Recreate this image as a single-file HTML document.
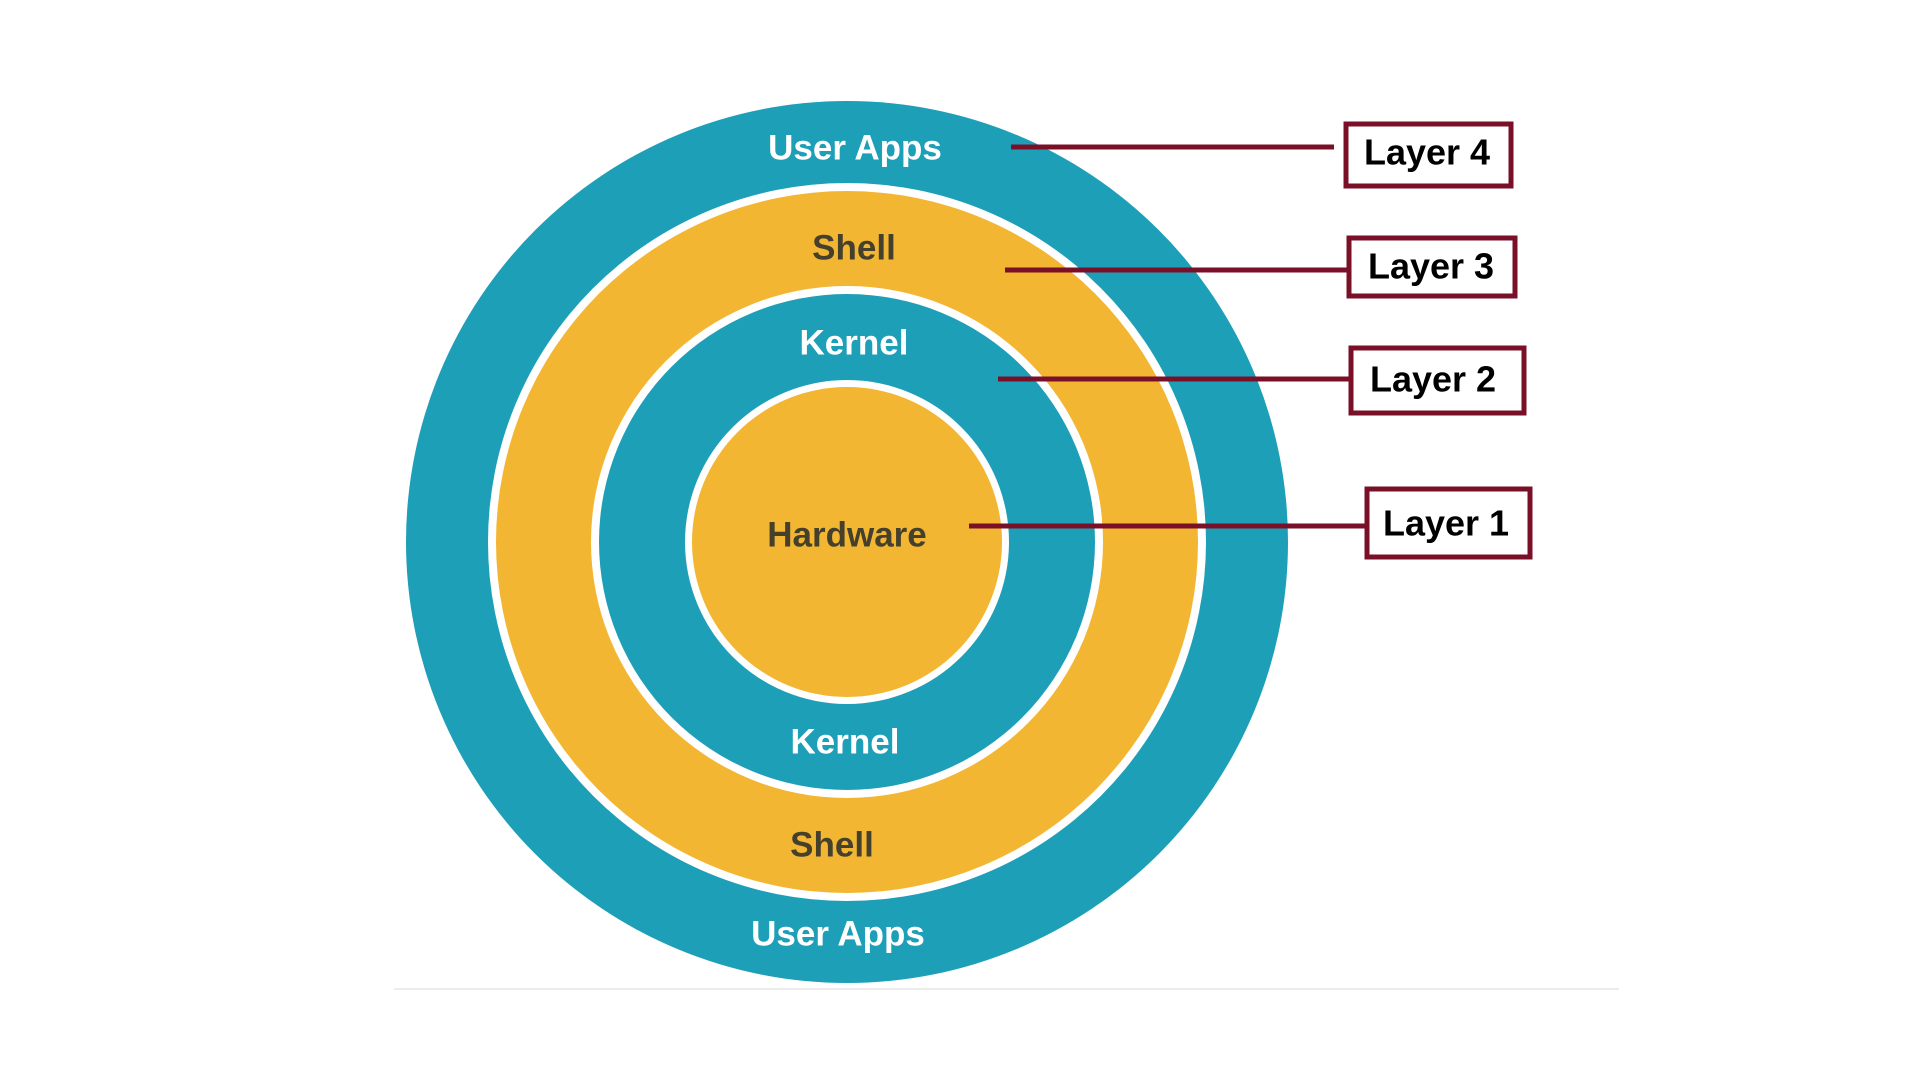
<!DOCTYPE html>
<html><head><meta charset="utf-8"><style>
html,body{margin:0;padding:0;background:#fff;width:1920px;height:1080px;overflow:hidden}
svg{display:block}
.lbl{font-family:"Liberation Sans",sans-serif;font-weight:bold;font-size:35px;text-anchor:middle;dominant-baseline:central}
.box{font-family:"Liberation Sans",sans-serif;font-weight:bold;font-size:36px;text-anchor:middle;dominant-baseline:central;fill:#000}
</style></head><body>
<svg width="1920" height="1080" viewBox="0 0 1920 1080">
<line x1="394" y1="989" x2="1619" y2="989" stroke="#ececec" stroke-width="2"/>
<g>
<circle cx="847" cy="542" r="441" fill="#1e9fb8"/>
<circle cx="847" cy="542" r="359" fill="#fff"/>
<circle cx="847" cy="542" r="351" fill="#f2b632"/>
<circle cx="847" cy="542" r="256" fill="#fff"/>
<circle cx="847" cy="542" r="248" fill="#1e9fb8"/>
<circle cx="847" cy="542" r="162" fill="#fff"/>
<circle cx="847" cy="542" r="155" fill="#f2b632"/>
</g>
<text class="lbl" x="855" y="148" fill="#fff">User Apps</text>
<text class="lbl" x="854" y="248" fill="#45402c">Shell</text>
<text class="lbl" x="854" y="343" fill="#fff">Kernel</text>
<text class="lbl" x="847" y="535" fill="#45402c">Hardware</text>
<text class="lbl" x="845" y="742" fill="#fff">Kernel</text>
<text class="lbl" x="832" y="845" fill="#45402c">Shell</text>
<text class="lbl" x="838" y="934" fill="#fff">User Apps</text>
<g stroke="#7a1028" stroke-width="5">
<line x1="1011" y1="147" x2="1334" y2="147"/>
<line x1="1005" y1="270" x2="1348" y2="270"/>
<line x1="998" y1="379" x2="1350" y2="379"/>
<line x1="969" y1="526" x2="1366" y2="526"/>
</g>
<g fill="#fff" stroke="#7a1028" stroke-width="5">
<rect x="1346" y="124" width="165" height="62"/>
<rect x="1349" y="238" width="166" height="58"/>
<rect x="1351" y="348" width="173" height="65"/>
<rect x="1367" y="489" width="163" height="68"/>
</g>
<text class="box" x="1427" y="152">Layer 4</text>
<text class="box" x="1431" y="266">Layer 3</text>
<text class="box" x="1433" y="379">Layer 2</text>
<text class="box" x="1446" y="523">Layer 1</text>
</svg>
</body></html>
